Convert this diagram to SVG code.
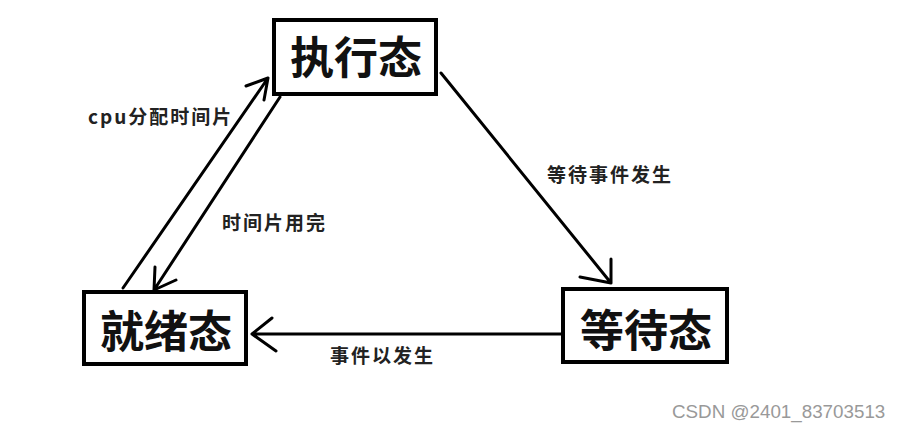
<svg xmlns="http://www.w3.org/2000/svg" width="901" height="430" viewBox="0 0 901 430">
<style>
.box{fill:#fff;stroke:#000;stroke-width:4}
.nt{font-family:"Noto Sans CJK SC","Liberation Sans",sans-serif;font-size:44px;font-weight:bold;fill:#111;text-anchor:middle}
.lb{font-family:"Noto Sans CJK SC","Liberation Sans",sans-serif;font-size:19px;font-weight:bold;fill:#222;letter-spacing:2px}
.ln{fill:none;stroke:#000;stroke-width:3;stroke-linecap:round;stroke-linejoin:round}
.wm{font-family:"Liberation Sans",sans-serif;font-size:18.8px;fill:#999}
</style>
<rect width="901" height="430" fill="#fff"/>
<g id="connectors">
<path class="ln" d="M123,288 L268,78 M246,86 L268,78 L264,100"/>
<path class="ln" d="M280,97 L154,290 M155,267 L154,290 L176,280"/>
<path class="ln" d="M441,73 L611,283 M611,259 L611,283 L580,277"/>
<path class="ln" d="M563,334 L252,334 M272,318 L252,334 L276,351"/>
</g>
<g id="n-running"><rect class="box" x="274" y="20" width="162" height="74"/><text class="nt" x="356" y="74">执行态</text></g>
<g id="n-ready"><rect class="box" x="84" y="292" width="162" height="72"/><text class="nt" x="166" y="348">就绪态</text></g>
<g id="n-wait"><rect class="box" x="563" y="289" width="164" height="73"/><text class="nt" x="646" y="347">等待态</text></g>
<g id="labels">
<text class="lb" x="88" y="124">cpu分配时间片</text>
<text class="lb" x="222" y="230">时间片用完</text>
<text class="lb" x="547" y="182">等待事件发生</text>
<text class="lb" x="330" y="363">事件以发生</text>
</g>
<text class="wm" x="672" y="418">CSDN @2401_83703513</text>
</svg>
